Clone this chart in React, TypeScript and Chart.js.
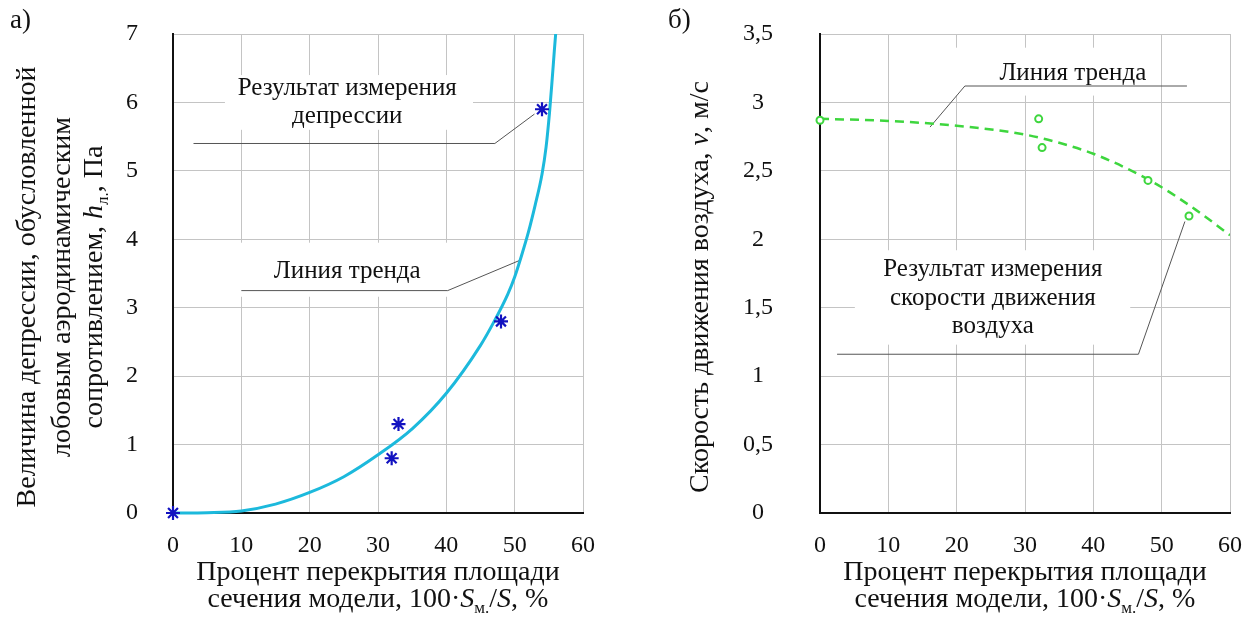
import React, { useEffect, useRef } from 'react';
import { Chart, registerables } from 'chart.js';
Chart.register(...registerables);

// ---------- data ----------
const xTicks = [0, 10, 20, 30, 40, 50, 60];
const yTicksA = [0, 1, 2, 3, 4, 5, 6, 7];
const yTicksB = [0, 0.5, 1, 1.5, 2, 2.5, 3, 3.5];
const yTickLabelsB = ['0', '0,5', '1', '1,5', '2', '2,5', '3', '3,5'];

const measuredCoverA = [0, 32, 33, 48, 54];
const measuredDepressionA = [0, 0.8, 1.3, 2.8, 5.9];
const trendCoverA = [0, 5, 10, 15, 20, 25, 30, 35, 40, 45, 47, 49, 50, 51, 52, 53, 54, 54.6, 55.1, 55.5, 55.8, 56];
const trendDepressionA = [0, 0.005, 0.03, 0.13, 0.3, 0.53, 0.85, 1.23, 1.75, 2.45, 2.8, 3.2, 3.45, 3.76, 4.1, 4.5, 4.95, 5.35, 5.85, 6.35, 6.75, 7.0];

const measuredCoverB = [0, 32, 32.5, 48, 54];
const measuredSpeedB = [2.87, 2.88, 2.67, 2.43, 2.17];
const trendCoverB = [0, 10, 20, 30, 35, 40, 45, 50, 55, 60];
const trendSpeedB = [2.88, 2.865, 2.83, 2.765, 2.705, 2.625, 2.515, 2.38, 2.215, 2.03];

// ---------- styling / layout ----------
const SERIF = "'Liberation Serif', 'Times New Roman', serif";
const GRID = '#c4c4c4';

type Seg = { t: string; it?: boolean; sub?: boolean };

const titleXLine1: Seg[] = [{ t: 'Процент перекрытия площади' }];
const titleXLine2: Seg[] = [
  { t: 'сечения модели, 100·' },
  { t: 'S', it: true },
  { t: 'м.', sub: true },
  { t: '/' },
  { t: 'S', it: true },
  { t: ', %' },
];
const titleYA: Seg[][] = [
  [{ t: 'Величина депрессии, обусловленной' }],
  [{ t: 'лобовым аэродинамическим' }],
  [{ t: 'сопротивлением, ' }, { t: 'h', it: true }, { t: 'л.', sub: true }, { t: ', Па' }],
];
const titleYB: Seg[][] = [[{ t: 'Скорость движения воздуха, ' }, { t: 'v', it: true }, { t: ', м/с' }]];

type Ann = {
  box: [number, number, number, number];
  lines: string[];
  textX: number;
  textY: number[];
  leader: [number, number][];
};

const annA: Ann[] = [
  {
    box: [7.6, 43.9, 6.4, 5.6],
    lines: ['Результат измерения', 'депрессии'],
    textX: 25.5,
    textY: [6.2, 5.79],
    leader: [[3.0, 5.4], [47.1, 5.4], [52.9, 5.83]],
  },
  {
    box: [9.5, 41, 3.95, 3.16],
    lines: ['Линия тренда'],
    textX: 25.5,
    textY: [3.53],
    leader: [[10.0, 3.25], [40.2, 3.25], [50.7, 3.69]],
  },
];

const annB: Ann[] = [
  {
    box: [17.6, 49.8, 3.4, 3.05],
    lines: ['Линия тренда'],
    textX: 37.0,
    textY: [3.215],
    leader: [[16.1, 2.82], [21.2, 3.12], [53.7, 3.12]],
  },
  {
    box: [5.1, 45.4, 1.92, 1.23],
    lines: ['Результат измерения', 'скорости движения', 'воздуха'],
    textX: 25.3,
    textY: [1.78, 1.57, 1.36],
    leader: [[2.5, 1.16], [46.6, 1.16], [53.4, 2.13]],
  },
];

function fontFor(s: Seg, size: number) {
  const sz = s.sub ? Math.round(size * 0.62) : size;
  return `${s.it ? 'italic ' : ''}${sz}px ${SERIF}`;
}

function drawRich(ctx: CanvasRenderingContext2D, segs: Seg[], cx: number, baseline: number, size: number) {
  ctx.textAlign = 'left';
  ctx.textBaseline = 'alphabetic';
  let total = 0;
  const ws = segs.map((s) => {
    ctx.font = fontFor(s, size);
    const w = ctx.measureText(s.t).width;
    total += w;
    return w;
  });
  let x = cx - total / 2;
  segs.forEach((s, i) => {
    ctx.font = fontFor(s, size);
    ctx.fillText(s.t, x, baseline + (s.sub ? size * 0.22 : 0));
    x += ws[i];
  });
}

type DecorCfg = {
  anns: Ann[];
  yTitle: Seg[][];
  yTitleBaselines: number[];
  yTitleCenter: number;
  panel: string;
  panelX: number;
};

function makeDecor(cfg: DecorCfg) {
  return {
    id: 'decor',
    beforeDatasetsDraw(chart: any) {
      const ctx: CanvasRenderingContext2D = chart.ctx;
      const xs = chart.scales.x;
      const ys = chart.scales.y;
      ctx.save();
      cfg.anns.forEach((a) => {
        const x0 = xs.getPixelForValue(a.box[0]);
        const x1 = xs.getPixelForValue(a.box[1]);
        const y0 = ys.getPixelForValue(a.box[2]);
        const y1 = ys.getPixelForValue(a.box[3]);
        ctx.fillStyle = '#ffffff';
        ctx.fillRect(x0, y0, x1 - x0, y1 - y0);
      });
      cfg.anns.forEach((a) => {
        ctx.strokeStyle = '#555555';
        ctx.lineWidth = 1;
        ctx.beginPath();
        a.leader.forEach((p, i) => {
          const px = xs.getPixelForValue(p[0]);
          const py = ys.getPixelForValue(p[1]);
          if (i === 0) ctx.moveTo(px, py);
          else ctx.lineTo(px, py);
        });
        ctx.stroke();
        ctx.fillStyle = '#111111';
        ctx.font = `25px ${SERIF}`;
        ctx.textAlign = 'center';
        ctx.textBaseline = 'middle';
        a.lines.forEach((l, i) => {
          ctx.fillText(l, xs.getPixelForValue(a.textX), ys.getPixelForValue(a.textY[i]));
        });
      });
      ctx.restore();
    },
    afterDraw(chart: any) {
      const ctx: CanvasRenderingContext2D = chart.ctx;
      const area = chart.chartArea;
      const cx = (area.left + area.right) / 2;
      ctx.save();
      ctx.fillStyle = '#111111';
      drawRich(ctx, titleXLine1, cx, 580, 28);
      drawRich(ctx, titleXLine2, cx, 607, 28);
      cfg.yTitle.forEach((line, i) => {
        ctx.save();
        ctx.translate(0, cfg.yTitleCenter);
        ctx.rotate(-Math.PI / 2);
        drawRich(ctx, line, 0, cfg.yTitleBaselines[i], 28);
        ctx.restore();
      });
      ctx.font = `27px ${SERIF}`;
      ctx.textAlign = 'left';
      ctx.textBaseline = 'alphabetic';
      ctx.fillText(cfg.panel, cfg.panelX, 28);
      ctx.restore();
    },
  };
}

function buildChart(
  canvas: HTMLCanvasElement,
  datasets: any[],
  yMax: number,
  yTicks: number[],
  yLabel: (v: number) => string,
  yAxisWidth: number,
  yPad: number,
  rightPad: number,
  decor: DecorCfg
) {
  return new Chart(canvas, {
    type: 'scatter',
    data: { datasets },
    options: {
      animation: false,
      responsive: false,
      maintainAspectRatio: false,
      events: [],
      layout: { padding: { top: 34, right: rightPad, left: 0, bottom: 0 } },
      plugins: { legend: { display: false }, tooltip: { enabled: false } },
      scales: {
        x: {
          type: 'linear',
          min: 0,
          max: 60,
          afterBuildTicks: (s: any) => {
            s.ticks = xTicks.map((v) => ({ value: v }));
          },
          ticks: {
            font: { family: SERIF, size: 24 },
            color: '#111111',
            padding: 18,
            maxRotation: 0,
            autoSkip: false,
          },
          grid: { color: GRID, lineWidth: 1, drawTicks: false },
          border: { color: '#111111', width: 2 },
          afterFit: (s: any) => {
            s.height = 117;
            s.paddingLeft = 0;
            s.paddingRight = 0;
          },
        },
        y: {
          type: 'linear',
          min: 0,
          max: yMax,
          afterBuildTicks: (s: any) => {
            s.ticks = yTicks.map((v) => ({ value: v }));
          },
          ticks: {
            font: { family: SERIF, size: 24 },
            color: '#111111',
            padding: yPad,
            crossAlign: 'center',
            autoSkip: false,
            callback: (v: any) => yLabel(Number(v)),
          },
          grid: { color: GRID, lineWidth: 1, drawTicks: false },
          border: { color: '#111111', width: 2 },
          afterFit: (s: any) => {
            s.width = yAxisWidth;
            s.paddingTop = 0;
            s.paddingBottom = 0;
          },
        },
      },
    } as any,
    plugins: [makeDecor(decor) as any],
  });
}

export default function App() {
  const refA = useRef<HTMLCanvasElement>(null);
  const refB = useRef<HTMLCanvasElement>(null);

  useEffect(() => {
    const chartA = buildChart(
      refA.current!,
      [
        {
          data: measuredCoverA.map((x, i) => ({ x, y: measuredDepressionA[i] })),
          pointStyle: 'star',
          pointRadius: 7,
          borderColor: '#1212c0',
          backgroundColor: '#1212c0',
          borderWidth: 2.2,
          clip: false,
          order: 0,
        },
        {
          data: trendCoverA.map((x, i) => ({ x, y: trendDepressionA[i] })),
          showLine: true,
          borderColor: '#1cb9dc',
          borderWidth: 3,
          pointRadius: 0,
          cubicInterpolationMode: 'monotone',
          fill: false,
          clip: false,
          order: 1,
        },
      ],
      7,
      yTicksA,
      (v) => String(v),
      173,
      35,
      47,
      {
        anns: annA,
        yTitle: titleYA,
        yTitleBaselines: [35, 70, 102],
        yTitleCenter: 287,
        panel: 'а)',
        panelX: 10,
      }
    );

    const chartB = buildChart(
      refB.current!,
      [
        {
          data: measuredCoverB.map((x, i) => ({ x, y: measuredSpeedB[i] })),
          pointStyle: 'circle',
          pointRadius: 3.5,
          borderColor: '#3ed63e',
          backgroundColor: '#ffffff',
          borderWidth: 2,
          clip: false,
          order: 0,
        },
        {
          data: trendCoverB.map((x, i) => ({ x, y: trendSpeedB[i] })),
          showLine: true,
          borderColor: '#3ed63e',
          borderWidth: 2.5,
          borderDash: [9, 6],
          pointRadius: 0,
          cubicInterpolationMode: 'monotone',
          fill: false,
          order: 1,
        },
      ],
      3.5,
      yTicksB,
      (v) => {
        const i = yTicksB.indexOf(v);
        return i >= 0 ? yTickLabelsB[i] : String(v).replace('.', ',');
      },
      190,
      47,
      29,
      {
        anns: annB,
        yTitle: titleYB,
        yTitleBaselines: [78],
        yTitleCenter: 287,
        panel: 'б)',
        panelX: 38,
      }
    );

    return () => {
      chartA.destroy();
      chartB.destroy();
    };
  }, []);

  return (
    <div style={{ position: 'absolute', left: 0, top: 0, width: 1259, height: 630, background: '#ffffff' }}>
      <canvas
        ref={refA}
        width={630}
        height={630}
        style={{ position: 'absolute', left: 0, top: 0, width: 630, height: 630 }}
      />
      <canvas
        ref={refB}
        width={629}
        height={630}
        style={{ position: 'absolute', left: 630, top: 0, width: 629, height: 630 }}
      />
    </div>
  );
}
